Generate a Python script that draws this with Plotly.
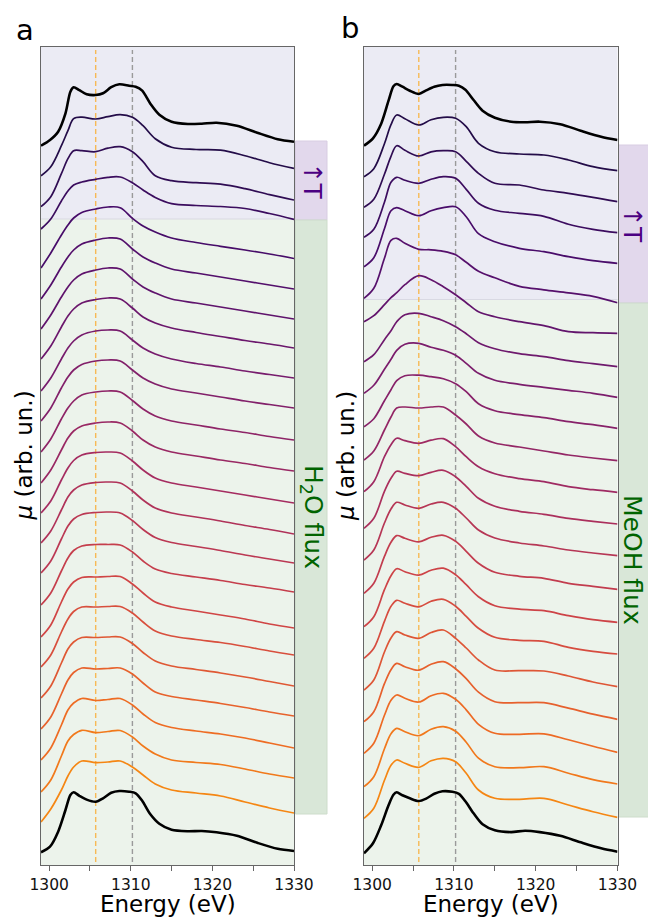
import plotly.graph_objects as go
from plotly.colors import sample_colorscale
import plotly.express as px

W, H = 648, 919

# ---------------- data ----------------
# common energy grid of the series spectra (eV)
E_GRID = [1299, 1300.2, 1301.5, 1302.3, 1303, 1304, 1305.7, 1307.2, 1308.7, 1310.2,
          1311.5, 1313, 1315, 1318, 1321, 1324, 1327, 1330]
# energy grid of the black reference spectra (eV)
E_REF = [1299, 1300.1, 1301.1, 1302, 1302.6, 1303, 1303.7, 1304.6, 1305.7, 1306.6,
         1307.6, 1308.6, 1309.8, 1310.6, 1311.4, 1312.4, 1313.5, 1315, 1317, 1318.7,
         1320.5, 1323, 1325.5, 1328, 1330]

# reference markers (eV)
E_MARK_ORANGE = 1305.7
E_MARK_GRAY = 1310.2

# ---- panel a (H2O flux) ----
A_REF_TOP = [0, 5.7, 14, 32.4, 54, 58.4, 55.5, 51.5, 50.7, 52.4, 58.5, 61.4, 60, 59, 55,
             42, 31, 24, 21.7, 22, 23, 20, 13, 6.5, 4]
A_REF_BOTTOM = [0, 5.6, 20.6, 42.3, 57.3, 60, 56.5, 52.7, 50.6, 54, 59.5, 61.3, 60.6, 59,
                51.5, 38, 28.5, 22.5, 21, 21.3, 20, 16.5, 9.5, 3.5, 1.3]
A_REF_OFFSETS = [719.3, 12.7]
A_OFFSETS = [689.3, 658.3, 636, 597, 566, 536, 506, 474, 444, 413, 382, 352, 322, 292,
             260, 228, 198, 167, 136, 105, 73, 43]
A_MU = [
    [0, 9, 30, 45, 57, 58.5, 56.7, 59, 61, 58.4, 50, 37, 28.5, 26.2, 25.5, 20, 13, 7.4],
    [0, 10, 33, 48, 56, 56, 55, 58.5, 60, 55, 45, 31, 26, 24, 22.5, 18, 12, 6.7],
    [0, 10, 28, 38, 44, 47, 49.7, 51.7, 52, 46.3, 39, 31.5, 25.3, 23.5, 22.5, 20.5, 15.5, 9.7],
    [0, 15, 33, 43, 50, 55.5, 59, 61, 60.3, 49.7, 42, 36, 30, 25.5, 21.7, 18, 14, 9.5],
    [0, 14, 32, 42, 49, 55, 59, 61, 60, 50, 42, 36, 30, 26, 22, 18, 14, 10],
    [0, 14, 32, 42, 49, 55, 59, 61, 60, 50, 42, 36, 30, 26, 22, 18, 14, 10],
    [0, 13, 32, 43, 50, 56, 59.5, 61, 60, 51, 42, 36, 31, 26.5, 22.5, 18.5, 15, 11],
    [0, 13, 32, 43, 50, 56, 60, 61, 60, 51, 43, 37, 32, 27.5, 24, 20, 16.5, 13],
    [0, 13, 33, 44, 51, 56.5, 60, 61, 60, 51, 43, 37, 32, 28, 24, 20, 16.5, 13],
    [0, 13, 33, 44, 51, 57, 60, 61, 60, 51.5, 43, 36, 31, 27, 23, 19.5, 15.5, 12],
    [0, 13, 33, 45, 52, 57, 60, 61, 60, 52, 43, 36, 31, 27, 23, 19.5, 15.5, 12],
    [0, 12, 33, 45, 52.5, 58, 60.5, 61, 60, 52, 43, 35, 30, 26, 22, 18, 14, 10],
    [0, 12, 33, 46, 53, 58, 60.5, 61, 60, 52, 43, 35, 30, 26, 22, 17.5, 13.5, 9],
    [0, 12, 34, 47, 54, 58.5, 60.5, 61, 60, 52.5, 43.5, 35.5, 30.5, 26.5, 22.5, 18, 14, 10],
    [0, 12, 34, 47, 54.5, 59, 60.5, 60.5, 60, 53, 44, 36, 31.5, 28, 24.5, 20.5, 17, 13],
    [0, 12, 35, 48, 55, 59.5, 60, 60.5, 60.5, 53, 44, 35, 30, 26, 22, 18, 13, 9],
    [0, 12, 35, 48, 55.5, 60, 60, 60.5, 60.5, 54, 45, 36, 31, 27.5, 24.5, 20.5, 16, 12],
    [0, 12, 35, 49, 56, 60.5, 60.5, 61, 61, 54.5, 45.5, 37, 32, 28.5, 25, 21, 16.5, 12],
    [0, 12, 35, 49, 56.5, 61, 60, 60.5, 61, 55, 46, 37, 32.5, 29, 25.5, 21.5, 17, 13],
    [0, 12, 35, 50, 57, 61.5, 59.5, 60.5, 61.5, 55, 46, 37.5, 32.5, 29, 26, 22, 17, 12],
    [0, 12, 36, 51, 57.5, 61.7, 59.4, 60.5, 61.5, 55, 46, 38, 32, 29.5, 27.5, 23, 18, 14],
    [0, 13, 32, 46, 55, 61, 59.4, 60, 61, 55, 47, 38, 32, 29, 26, 20, 14, 9],
]

# ---- panel b (MeOH flux) ----
B_REF_TOP = [0, 7.4, 22, 45, 59.5, 61.7, 59, 55, 51.7, 55.3, 59, 60.7, 60.7, 60, 56,
             45.7, 35, 28, 24, 23.5, 24, 21.5, 15, 9, 5.7]
B_REF_BOTTOM = [0, 10, 28, 48, 58.5, 61, 58, 55, 52.3, 54.7, 59.5, 62, 61.5, 59.5, 52,
                40, 29, 23, 21.2, 22.6, 21.2, 17.5, 11, 5, 1.6]
B_REF_OFFSETS = [719.3, 11.7]
B_OFFSETS = [688.3, 657.7, 627.7, 598.3, 566.7, 543.3, 503.3, 471.7, 438.3, 405, 373.3,
             336.7, 305, 271.7, 238.3, 206.7, 175, 143.3, 111.7, 78.3, 46.7]
B_MU = [
    [0, 8, 33, 52, 61.7, 58, 51.7, 57, 59.4, 58.4, 50, 33.4, 25, 22.7, 21.7, 16.7, 10, 6],
    [0, 8, 33, 51, 61.6, 57, 51.3, 55.5, 56.6, 55.6, 46, 34, 24, 22.3, 17.3, 14, 10, 5.6],
    [0, 8, 35, 55, 60, 57, 54, 58, 60.6, 59, 48, 34, 27, 24, 21, 13, 8, 4.6],
    [0, 9, 38, 56, 59, 56, 51, 56, 59, 60, 50, 33, 25, 18.4, 15, 10, 6, 3.4],
    [0, 10, 40, 58, 60, 55, 49, 48.5, 47, 43.5, 36, 27, 20.5, 12, 8.5, 5.5, 2, -4.4],
    [0, 6, 17, 24, 29, 37, 46, 42, 35, 27, 19, 10, 5, 0, -4, -10, -11, -11.6],
    [0, 7, 22, 31, 40, 47, 48.4, 45, 41, 35, 28, 19, 13, 8, 5, 1, -2, -5],
    [0, 8, 24, 34, 43, 49, 50, 46, 43, 38, 30, 20, 13, 9, 6, 3, 0, -4],
    [0, 8, 26, 37, 46, 51, 51.5, 50, 48, 43, 35, 23, 16, 12, 9, 5, 2, -1.6],
    [0, 9, 30, 43, 52, 53, 52, 53, 53, 45, 36, 24, 17, 13, 9, 5, 2, -0.7],
    [0, 10, 35, 47, 53.4, 51, 48.4, 51.5, 53, 45, 35, 25, 18, 13, 10, 5, 2, -0.6],
    [0, 10, 37, 50, 57, 55, 52.6, 56, 58, 51.6, 42, 30, 22, 17, 14, 10, 7, 4.3],
    [0, 10, 37, 51, 57.7, 55, 51.7, 56, 57.7, 51.7, 42, 30, 22, 17, 14, 10, 7, 4.3],
    [0, 10, 37, 51, 57.7, 55, 51.5, 56, 58, 52, 42, 30, 21, 17, 15, 10, 7, 4],
    [0, 10, 37, 51, 58, 55, 51.5, 56.5, 58.5, 52, 42, 30, 21, 17.5, 16, 11, 7, 4.4],
    [0, 10, 37, 52, 58, 55, 51.5, 57, 59, 52, 42, 30, 21, 18, 17, 11, 7, 4.3],
    [0, 10, 38, 52, 58.3, 55, 51.7, 57.5, 60, 51.7, 42, 30, 20, 19.3, 19, 14, 8, 3.3],
    [0, 10, 38, 52, 58.3, 55, 51.5, 57.5, 60, 53, 43, 29.5, 20, 19, 19, 13.5, 7.5, 2.4],
    [0, 10, 38, 53, 58.3, 55, 51.3, 57.5, 60, 54, 43.5, 29, 20, 19, 19.5, 13.5, 7, 1],
    [0, 10, 38, 53, 58.3, 55, 51, 57.5, 60, 55.5, 44.5, 28.5, 20, 19, 20, 13.5, 7, 2.7],
    [0, 10, 38, 53, 58.3, 55, 51, 57.5, 60, 56.6, 45, 28.3, 20, 19, 20, 13.3, 6.6, 1],
]

# region boundaries (same units as offsets)
A_REGION_SPLIT = 646.0
B_REGION_SPLIT = 565.5
A_BAR = [724.0, 645.0, 51.0]   # purple top, split, green bottom
B_BAR = [720.0, 562.0, 48.0]

X_RANGE = [1299, 1330]
Y_RANGE = [0, 818]

# ---------------- styling ----------------
FONT = "DejaVu Sans"
PURPLE_BG = "#ebebf4"
GREEN_BG = "#ecf3eb"
PURPLE_BAR = "#e2d8ec"
GREEN_BAR = "#d9e7d8"
PURPLE_TXT = "#4b0082"
GREEN_TXT = "#006400"


def fx(p):
    return p / W


def fy(p):
    return (H - p) / H


fig = go.Figure()

panels = [
    dict(xa="x", ya="y", ref_top=A_REF_TOP, ref_bot=A_REF_BOTTOM, ref_off=A_REF_OFFSETS,
         offs=A_OFFSETS, mus=A_MU),
    dict(xa="x2", ya="y2", ref_top=B_REF_TOP, ref_bot=B_REF_BOTTOM, ref_off=B_REF_OFFSETS,
         offs=B_OFFSETS, mus=B_MU),
]

for p in panels:
    n = len(p["mus"])
    cols = sample_colorscale(px.colors.sequential.Inferno,
                             [0.13 + 0.6 * i / (n - 1) for i in range(n)])
    for off, mu, c in zip(p["offs"], p["mus"], cols):
        fig.add_trace(go.Scatter(x=E_GRID, y=[off + v for v in mu], mode="lines",
                                 line=dict(color=c, width=1.7, shape="spline", smoothing=1.0),
                                 xaxis=p["xa"], yaxis=p["ya"], showlegend=False,
                                 hoverinfo="skip"))
    for ref, off in ((p["ref_top"], p["ref_off"][0]), (p["ref_bot"], p["ref_off"][1])):
        fig.add_trace(go.Scatter(x=E_REF, y=[off + v for v in ref], mode="lines",
                                 line=dict(color="black", width=2.6, shape="spline",
                                           smoothing=0.8),
                                 xaxis=p["xa"], yaxis=p["ya"], showlegend=False,
                                 hoverinfo="skip"))

shapes = []
for xr, yr, split in (("x", "y", A_REGION_SPLIT), ("x2", "y2", B_REGION_SPLIT)):
    shapes.append(dict(type="rect", xref=xr + " domain", yref=yr, x0=0, x1=1, y0=split,
                       y1=Y_RANGE[1], fillcolor=PURPLE_BG, line_width=0, layer="below"))
    shapes.append(dict(type="rect", xref=xr + " domain", yref=yr, x0=0, x1=1, y0=Y_RANGE[0],
                       y1=split, fillcolor=GREEN_BG, line_width=0, layer="below"))
    shapes.append(dict(type="line", xref=xr + " domain", yref=yr, x0=0, x1=1, y0=split,
                       y1=split, line=dict(color="#d9d9e3", width=1), layer="below"))
    shapes.append(dict(type="line", xref=xr, yref=yr, x0=E_MARK_ORANGE, x1=E_MARK_ORANGE,
                       y0=3, y1=815, line=dict(color="#f7b955", width=1.4, dash="5px,3px"),
                       layer="below"))
    shapes.append(dict(type="line", xref=xr, yref=yr, x0=E_MARK_GRAY, x1=E_MARK_GRAY,
                       y0=3, y1=815, line=dict(color="#9a9a9a", width=1.4, dash="5px,3px"),
                       layer="below"))

# side bars
for yr, bar, x0, x1 in (("y", A_BAR, 295.5, 327), ("y2", B_BAR, 618.5, 650)):
    shapes.append(dict(type="rect", xref="paper", yref=yr, x0=fx(x0), x1=fx(x1),
                       y0=bar[1], y1=bar[0], fillcolor=PURPLE_BAR,
                       line=dict(color="#d8cde2", width=1), layer="below"))
    shapes.append(dict(type="rect", xref="paper", yref=yr, x0=fx(x0), x1=fx(x1),
                       y0=bar[2], y1=bar[1], fillcolor=GREEN_BAR,
                       line=dict(color="#cddccb", width=1), layer="below"))

annotations = []


def ann(text, x, y, size, color, angle=0, yref="paper"):
    annotations.append(dict(text=text, xref="paper", yref=yref, x=x, y=y, showarrow=False,
                            xanchor="center", yanchor="middle", textangle=angle,
                            font=dict(size=size, color=color, family=FONT)))


# bar labels
for yr, bar, xc, flux in (("y", A_BAR, 312, "H<sub>2</sub>O flux"),
                          ("y2", B_BAR, 633, "MeOH flux")):
    ann("↑T", fx(xc), (bar[0] + bar[1]) / 2, 25, PURPLE_TXT, 90, yr)
    ann(flux, fx(xc), (bar[1] + bar[2]) / 2, 25, GREEN_TXT, 90, yr)
# axis titles and panel letters
for xc, ylab_x, letter, lx, ly in ((167.5, 23.5, "a", 25, 30), (490.5, 346, "b", 350, 28)):
    ann("Energy (eV)", fx(xc), fy(904), 23, "black")
    ann("<i>μ</i> (arb. un.)", fx(ylab_x), fy(456), 23, "black", -90)
    ann(letter, fx(lx), fy(ly), 29, "black")

xaxis_common = dict(range=X_RANGE, tick0=1300, dtick=10, ticks="outside",
                    ticklen=5, tickwidth=1, tickcolor="#666",
                    minor=dict(tick0=1300, dtick=5, ticks="outside", ticklen=5, tickwidth=1,
                               tickcolor="#666", showgrid=False),
                    showline=True, mirror=True, automargin=False,
                    linecolor="#666", linewidth=1, showgrid=False, zeroline=False,
                    tickfont=dict(size=15.5, color="#111", family=FONT))
yaxis_common = dict(range=Y_RANGE, showticklabels=False, ticks="", showline=True, mirror=True,
                    automargin=False,
                    linecolor="#666", linewidth=1, showgrid=False, zeroline=False,
                    domain=[fy(865), fy(47)])

fig.update_layout(
    width=W, height=H, margin=dict(l=0, r=0, t=0, b=0, pad=0), autosize=False,
    paper_bgcolor="white", plot_bgcolor="white",
    font=dict(family=FONT, color="black"),
    xaxis=dict(domain=[fx(41), fx(294)], anchor="y", **xaxis_common),
    xaxis2=dict(domain=[fx(364), fx(617.5)], anchor="y2", **xaxis_common),
    yaxis=dict(anchor="x", **yaxis_common),
    yaxis2=dict(anchor="x2", **yaxis_common),
    shapes=shapes, annotations=annotations,
)

fig.write_html("out.html", config={"displayModeBar": False},
               post_script="document.body.style.margin='0';document.body.style.padding='0';"
                           "document.body.style.overflow='hidden';")
